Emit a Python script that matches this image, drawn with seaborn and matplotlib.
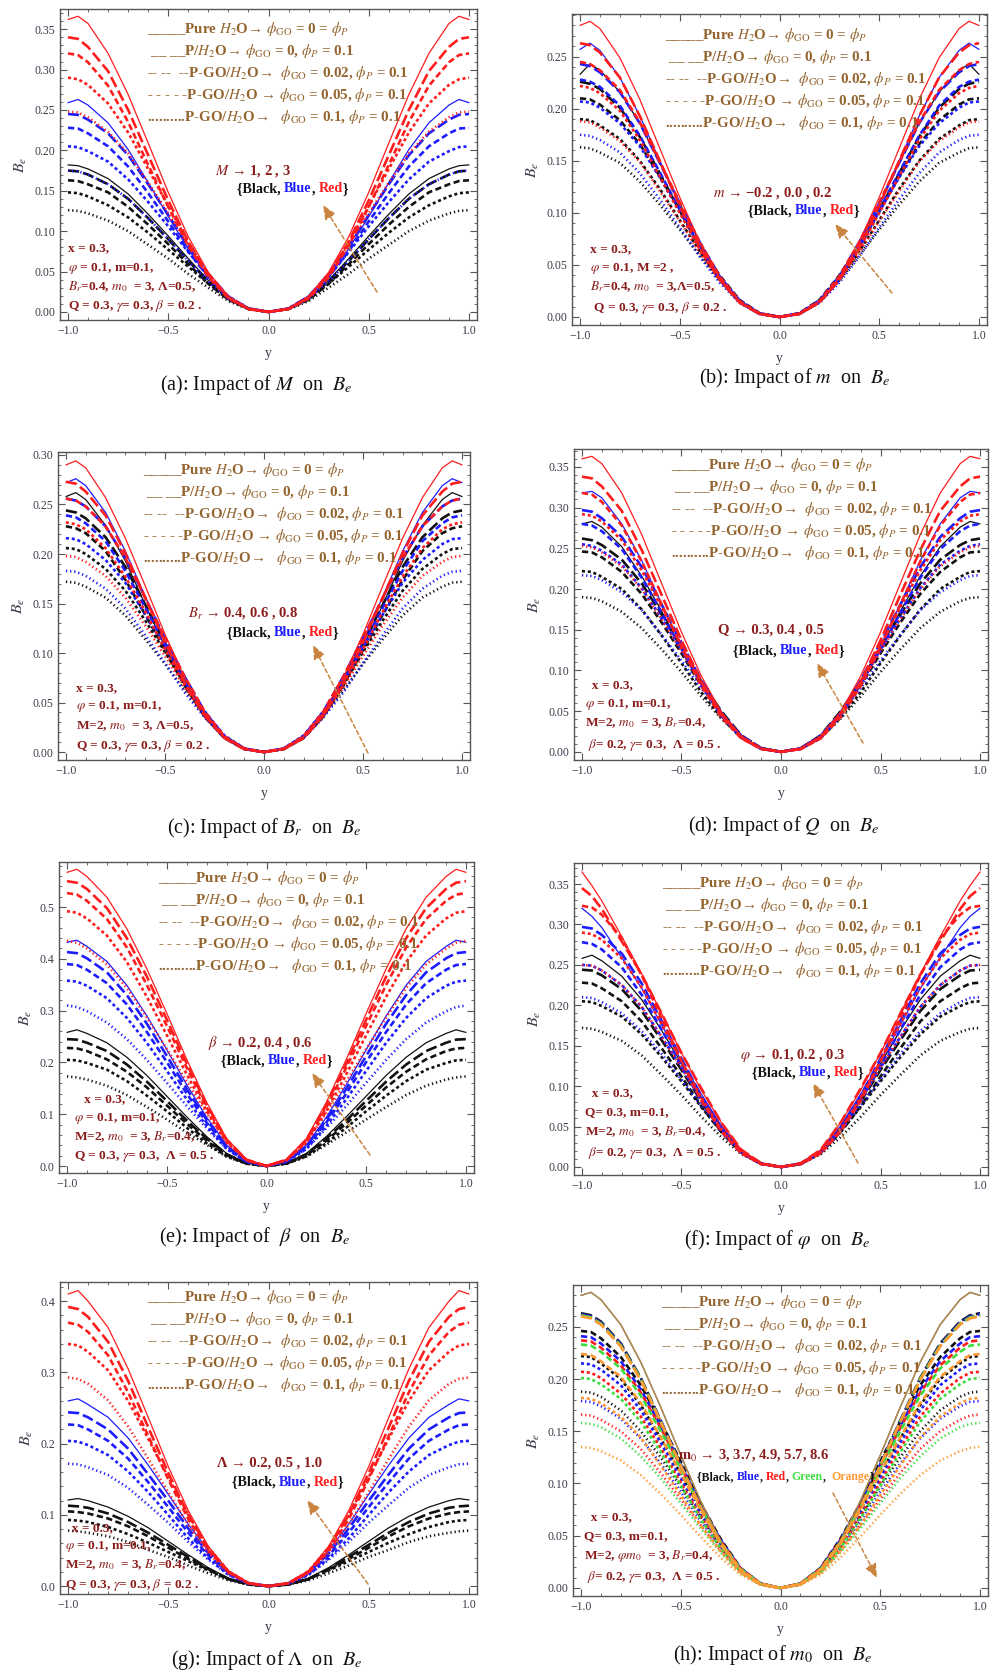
import matplotlib
matplotlib.use("Agg")
import matplotlib.pyplot as plt
from matplotlib.ticker import MultipleLocator, AutoMinorLocator
import seaborn as sns

# ---------------- data (half profiles, y >= 0; curves are symmetric) ----------------
Y_HALF = [0.0, 0.1, 0.2, 0.3, 0.4, 0.5, 0.6, 0.7, 0.8, 0.9, 0.95, 1.0]
STYLE_NAMES = ["solid", "long dash", "medium dash", "short dash", "dotted"]

A_BLACK = [[0, .0040, .0168, .039, .066, .094, .121, .146, .165, .177, .181, .182],
           [0, .0039, .0162, .038, .063, .090, .116, .140, .158, .170, .174, .175],
           [0, .0036, .0151, .035, .059, .084, .108, .130, .148, .158, .162, .163],
           [0, .0039, .0157, .035, .056, .077, .098, .117, .132, .143, .147, .148],
           [0, .0033, .0135, .030, .047, .066, .083, .100, .113, .122, .125, .126]]
A_BLUE = [[0, .0035, .0163, .042, .078, .118, .160, .201, .234, .256, .263, .259],
          [0, .0043, .0191, .047, .081, .120, .158, .194, .221, .238, .244, .245],
          [0, .0040, .0176, .043, .075, .112, .147, .180, .205, .221, .227, .228],
          [0, .0045, .0190, .044, .074, .106, .136, .164, .186, .199, .204, .205],
          [0, .0039, .0162, .038, .063, .090, .116, .140, .158, .170, .174, .175]]
A_RED = [[0, .0040, .0189, .049, .093, .148, .209, .269, .320, .357, .366, .362],
         [0, .0037, .0178, .046, .087, .138, .194, .250, .298, .328, .338, .340],
         [0, .0035, .0166, .043, .082, .130, .182, .235, .280, .309, .318, .320],
         [0, .0038, .0179, .046, .086, .131, .177, .222, .258, .281, .288, .290],
         [0, .0044, .0192, .047, .082, .122, .160, .196, .223, .241, .247, .248]]

B_BLACK = [[0, .0032, .0152, .039, .072, .109, .148, .186, .216, .237, .243, .233],
           [0, .0030, .0141, .036, .067, .102, .138, .173, .201, .219, .224, .226],
           [0, .0037, .0164, .040, .069, .103, .135, .166, .189, .204, .209, .210],
           [0, .0033, .0148, .036, .063, .093, .123, .150, .171, .184, .189, .190],
           [0, .0036, .0151, .035, .059, .084, .108, .130, .148, .158, .162, .163]]
B_BLUE = [[0, .0029, .0139, .036, .067, .107, .150, .193, .230, .256, .263, .257],
          [0, .0032, .0152, .039, .072, .109, .148, .186, .216, .235, .241, .243],
          [0, .0030, .0141, .036, .067, .103, .139, .174, .203, .221, .226, .228],
          [0, .0037, .0161, .039, .068, .101, .134, .164, .186, .201, .206, .207],
          [0, .0031, .0135, .033, .058, .086, .113, .138, .158, .170, .174, .175]]
B_RED = [[0, .0031, .0147, .038, .072, .115, .162, .209, .249, .277, .284, .280],
         [0, .0029, .0139, .036, .067, .107, .150, .193, .230, .254, .261, .263],
         [0, .0033, .0153, .039, .072, .110, .149, .187, .218, .237, .243, .245],
         [0, .0029, .0140, .036, .065, .100, .135, .170, .198, .215, .220, .222],
         [0, .0033, .0147, .036, .062, .092, .121, .149, .169, .182, .187, .188]]

C_BLACK = [[0, .0029, .0137, .035, .067, .106, .149, .193, .229, .255, .262, .258],
           [0, .0032, .0152, .039, .072, .110, .149, .187, .217, .236, .242, .244],
           [0, .0030, .0141, .036, .067, .103, .139, .174, .203, .221, .226, .228],
           [0, .0036, .0160, .039, .068, .101, .133, .163, .185, .200, .205, .206],
           [0, .0038, .0159, .037, .062, .089, .114, .138, .156, .167, .171, .172]]
C_BLUE = [[0, .0030, .0143, .037, .070, .112, .157, .203, .242, .269, .276, .272],
          [0, .0034, .0160, .041, .076, .115, .156, .196, .228, .248, .254, .256],
          [0, .0032, .0148, .038, .071, .108, .146, .183, .213, .231, .237, .239],
          [0, .0038, .0168, .041, .071, .106, .139, .171, .194, .210, .215, .216],
          [0, .0032, .0143, .035, .060, .090, .118, .145, .165, .178, .182, .183]]
C_RED = [[0, .0033, .0155, .040, .075, .119, .168, .216, .257, .287, .294, .290],
         [0, .0030, .0143, .037, .070, .111, .156, .201, .239, .263, .271, .273],
         [0, .0034, .0160, .041, .076, .115, .156, .196, .228, .248, .254, .256],
         [0, .0031, .0144, .037, .068, .104, .142, .177, .206, .225, .230, .232],
         [0, .0035, .0154, .038, .065, .097, .128, .156, .178, .192, .197, .198]]

D_BLACK = [[0, .0037, .0176, .045, .083, .127, .173, .216, .252, .276, .283, .280],
           [0, .0046, .0204, .050, .086, .128, .169, .207, .236, .254, .260, .262],
           [0, .0043, .0191, .047, .081, .121, .159, .194, .221, .239, .245, .246],
           [0, .0039, .0172, .042, .073, .109, .143, .175, .200, .215, .221, .222],
           [0, .0042, .0176, .041, .068, .098, .126, .152, .172, .185, .189, .190]]
D_BLUE = [[0, .0035, .0166, .043, .082, .130, .182, .235, .280, .312, .320, .318],
          [0, .0039, .0186, .048, .088, .134, .181, .227, .264, .287, .295, .297],
          [0, .0037, .0175, .045, .083, .126, .171, .214, .249, .271, .278, .280],
          [0, .0045, .0198, .048, .084, .125, .164, .201, .230, .247, .253, .255],
          [0, .0048, .0201, .047, .078, .112, .144, .174, .196, .211, .216, .217]]
D_RED = [[0, .0040, .0190, .049, .093, .147, .207, .267, .318, .354, .363, .360],
         [0, .0037, .0178, .046, .086, .137, .193, .248, .296, .326, .336, .338],
         [0, .0035, .0166, .043, .081, .129, .181, .234, .278, .307, .316, .318],
         [0, .0039, .0182, .047, .086, .131, .178, .223, .260, .283, .290, .292],
         [0, .0044, .0197, .048, .083, .124, .163, .200, .228, .245, .251, .253]]

E_BLACK = [[0, .0057, .0243, .057, .095, .135, .175, .210, .238, .256, .263, .258],
           [0, .0053, .0225, .053, .088, .126, .163, .196, .222, .238, .244, .245],
           [0, .0048, .0207, .049, .082, .117, .152, .182, .206, .222, .227, .228],
           [0, .0044, .0187, .044, .074, .106, .136, .164, .186, .199, .204, .205],
           [0, .0044, .0180, .041, .065, .090, .114, .137, .155, .167, .171, .173]]
E_BLUE = [[0, .0097, .0405, .094, .157, .225, .290, .349, .395, .424, .436, .432],
          [0, .0092, .0385, .089, .149, .213, .275, .330, .374, .401, .411, .413],
          [0, .0088, .0364, .084, .140, .201, .259, .312, .353, .379, .388, .390],
          [0, .0079, .0331, .077, .129, .184, .238, .286, .324, .348, .356, .358],
          [0, .0084, .0331, .073, .116, .161, .205, .245, .277, .299, .307, .310]]
E_RED = [[0, .0128, .0531, .123, .206, .295, .381, .458, .519, .559, .573, .567],
         [0, .0121, .0507, .118, .198, .283, .366, .440, .498, .535, .547, .550],
         [0, .0114, .0482, .113, .190, .271, .350, .422, .477, .512, .524, .527],
         [0, .0110, .0458, .106, .177, .253, .327, .394, .445, .478, .489, .492],
         [0, .0114, .0457, .102, .163, .226, .287, .344, .389, .420, .431, .435]]

F_BLACK = [[0, .0046, .0204, .050, .086, .128, .169, .207, .236, .255, .262, .258],
           [0, .0043, .0189, .046, .081, .120, .157, .193, .220, .237, .243, .244],
           [0, .0040, .0176, .043, .075, .112, .147, .180, .205, .221, .227, .228],
           [0, .0045, .0190, .044, .074, .106, .136, .164, .186, .199, .204, .205],
           [0, .0038, .0159, .037, .062, .089, .114, .138, .156, .167, .171, .172]]
F_BLUE = [[0, .0042, .0198, .051, .090, .131, .176, .221, .259, .296, .310, .320],
          [0, .0039, .0186, .048, .088, .134, .181, .227, .264, .287, .295, .297],
          [0, .0037, .0172, .044, .082, .125, .170, .213, .247, .269, .276, .278],
          [0, .0044, .0196, .048, .083, .123, .161, .198, .225, .243, .249, .250],
          [0, .0046, .0193, .045, .076, .108, .140, .168, .190, .204, .209, .210]]
F_RED = [[0, .0045, .0213, .055, .095, .141, .190, .239, .285, .329, .348, .365],
         [0, .0046, .0215, .055, .097, .141, .190, .238, .279, .319, .335, .345],
         [0, .0036, .0170, .044, .082, .131, .184, .237, .283, .312, .321, .323],
         [0, .0038, .0179, .046, .086, .131, .177, .222, .258, .281, .288, .290],
         [0, .0044, .0196, .048, .083, .123, .161, .198, .225, .243, .249, .250]]

G_BLACK = [[0, .0027, .0113, .026, .044, .063, .082, .098, .111, .120, .123, .121],
           [0, .0025, .0104, .024, .041, .058, .075, .090, .102, .110, .112, .113],
           [0, .0023, .0098, .023, .038, .054, .070, .084, .095, .102, .104, .105],
           [0, .0025, .0099, .022, .035, .048, .061, .073, .083, .090, .092, .093],
           [0, .0021, .0082, .018, .029, .041, .051, .062, .070, .075, .077, .078]]
G_BLUE = [[0, .0046, .0204, .050, .087, .129, .170, .208, .237, .255, .263, .260],
          [0, .0043, .0189, .046, .081, .120, .157, .193, .220, .237, .243, .244],
          [0, .0040, .0176, .043, .075, .111, .146, .179, .204, .220, .226, .227],
          [0, .0036, .0160, .039, .067, .100, .132, .161, .184, .198, .203, .204],
          [0, .0038, .0159, .037, .062, .089, .114, .138, .156, .167, .171, .172]]
G_RED = [[0, .0046, .0217, .056, .106, .168, .237, .305, .363, .400, .415, .410],
         [0, .0043, .0205, .053, .100, .159, .223, .288, .343, .378, .389, .392],
         [0, .0041, .0194, .050, .094, .150, .211, .272, .324, .357, .367, .370],
         [0, .0045, .0211, .054, .100, .153, .207, .260, .303, .329, .338, .340],
         [0, .0039, .0182, .047, .086, .132, .179, .224, .261, .284, .291, .293]]

H_BLACK = [[0, .0037, .0176, .045, .083, .127, .173, .216, .252, .276, .283, .280],
           [0, .0035, .0163, .042, .078, .118, .160, .201, .234, .255, .261, .263],
           [0, .0043, .0191, .047, .081, .121, .159, .194, .221, .239, .245, .246],
           [0, .0039, .0172, .042, .073, .109, .143, .175, .200, .215, .221, .222],
           [0, .0041, .0173, .040, .068, .097, .125, .150, .170, .183, .187, .188]]
H_BLUE = [[0, .0037, .0176, .045, .083, .127, .173, .216, .252, .276, .283, .280],
          [0, .0035, .0163, .042, .077, .118, .160, .200, .233, .254, .260, .262],
          [0, .0042, .0187, .046, .080, .118, .155, .190, .217, .234, .240, .241],
          [0, .0038, .0168, .041, .071, .105, .139, .170, .194, .209, .214, .215],
          [0, .0040, .0164, .038, .064, .092, .119, .143, .162, .174, .178, .179]]
H_RED = [[0, .0037, .0176, .045, .083, .127, .173, .216, .252, .276, .283, .280],
         [0, .0034, .0162, .042, .077, .117, .159, .200, .232, .253, .259, .261],
         [0, .0042, .0185, .045, .078, .116, .153, .187, .213, .230, .236, .237],
         [0, .0037, .0161, .039, .068, .101, .134, .164, .186, .201, .206, .207],
         [0, .0037, .0154, .036, .060, .085, .110, .133, .150, .161, .165, .166]]
H_GREEN = [[0, .0037, .0176, .045, .083, .127, .173, .216, .252, .276, .283, .280],
           [0, .0034, .0162, .042, .077, .117, .159, .200, .232, .253, .259, .261],
           [0, .0041, .0181, .044, .077, .114, .150, .184, .210, .226, .232, .233],
           [0, .0035, .0155, .038, .066, .098, .130, .159, .181, .195, .200, .201],
           [0, .0035, .0145, .034, .057, .081, .105, .126, .143, .154, .157, .158]]
H_ORANGE = [[0, .0037, .0176, .045, .083, .127, .173, .216, .252, .276, .283, .280],
            [0, .0034, .0162, .042, .077, .117, .159, .199, .231, .252, .258, .260],
            [0, .0040, .0175, .043, .074, .110, .144, .177, .202, .217, .223, .224],
            [0, .0032, .0143, .035, .060, .089, .117, .144, .164, .177, .181, .182],
            [0, .0030, .0125, .029, .049, .070, .090, .108, .122, .131, .134, .135]]

LEGEND_LINES = [
    r"_____Pure $H_2$O→ $\phi_{\rm GO}$ = 0 = $\phi_P$",
    r" __ __P/$H_2$O→ $\phi_{\rm GO}$ = 0, $\phi_P$ = 0.1",
    r"-- --  --P-GO/$H_2$O→  $\phi_{\rm GO}$ = 0.02, $\phi_P$ = 0.1",
    r"- - - - -P-GO/$H_2$O → $\phi_{\rm GO}$ = 0.05, $\phi_P$ = 0.1",
    r"..........P-GO/$H_2$O→   $\phi_{\rm GO}$ = 0.1, $\phi_P$ = 0.1",
]
PARAMS_A = ["x = 0.3,", r"$\varphi$ = 0.1, m=0.1,", r"$B_r$=0.4, $m_0$  = 3, Λ=0.5,", r"Q = 0.3, $\gamma$= 0.3, $\beta$ = 0.2 ."]
PARAMS_B = ["x = 0.3,", r"$\varphi$ = 0.1, M =2 ,", r"$B_r$=0.4, $m_0$  = 3,Λ=0.5,", r" Q = 0.3, $\gamma$= 0.3, $\beta$ = 0.2 ."]
PARAMS_C = ["x = 0.3,", r"$\varphi$ = 0.1, m=0.1,", r"M=2, $m_0$  = 3, Λ=0.5,", r"Q = 0.3, $\gamma$= 0.3, $\beta$ = 0.2 ."]
PARAMS_D = ["  x = 0.3,", r"$\varphi$ = 0.1, m=0.1,", r"M=2, $m_0$  = 3, $B_r$=0.4,", r" $\beta$= 0.2, $\gamma$= 0.3,  Λ = 0.5 ."]
PARAMS_E = ["   x = 0.3,", r"$\varphi$ = 0.1, m=0.1,", r"M=2, $m_0$  = 3, $B_r$=0.4,", r"Q = 0.3, $\gamma$= 0.3,  Λ = 0.5 ."]
PARAMS_F = ["  x = 0.3,", "Q= 0.3, m=0.1,", r"M=2, $m_0$  = 3, $B_r$=0.4,", r" $\beta$= 0.2, $\gamma$= 0.3,  Λ = 0.5 ."]
PARAMS_G = ["  x = 0.3,", r"$\varphi$ = 0.1, m=0.1,", r"M=2, $m_0$  = 3, $B_r$=0.4,", r"Q = 0.3, $\gamma$= 0.3, $\beta$ = 0.2 ."]
PARAMS_H = ["  x = 0.3,", "Q= 0.3, m=0.1,", r"M=2, $\varphi m_0$  = 3, $B_r$=0.4,", r" $\beta$= 0.2, $\gamma$= 0.3,  Λ = 0.5 ."]

ANNOT = [r"$M$ → 1, 2 , 3", r"$m$ → −0.2 , 0.0 , 0.2", r"$B_r$ → 0.4, 0.6 , 0.8", "Q → 0.3, 0.4 , 0.5",
         r"$\beta$ → 0.2, 0.4 , 0.6", r"$\varphi$ → 0.1, 0.2 , 0.3", "Λ → 0.2, 0.5 , 1.0",
         r"m$_0$ → 3, 3.7, 4.9, 5.7, 8.6"]
CAPTIONS = [r"(a): Impact of $M$  on  $B_e$", r"(b): Impact of $m$  on  $B_e$",
            r"(c): Impact of $B_r$  on  $B_e$", r"(d): Impact of $Q$  on  $B_e$",
            r"(e): Impact of  $\beta$  on  $B_e$", r"(f): Impact of $\varphi$  on  $B_e$",
            r"(g): Impact of $\Lambda$  on  $B_e$", r"(h): Impact of $m_0$  on  $B_e$"]
X_TICKS = [-1.0, -0.5, 0.0, 0.5, 1.0]

# ---------------- styling ----------------
sns.set_theme(style="ticks")
plt.rcParams.update({
    "font.family": ["Liberation Serif", "DejaVu Serif"],
    "mathtext.fontset": "stix",
    "lines.scale_dashes": False,
    "axes.unicode_minus": True,
})

COL = {"black": "#111111", "blue": "#1c1cff", "red": "#ff1c1c", "green": "#3fdc3f", "orange": "#ff9933"}
LINE_STYLES = [dict(linewidth=0.9, linestyle="-"),
               dict(linewidth=1.9, linestyle=(0, (8, 3))),
               dict(linewidth=1.9, linestyle=(0, (4.5, 2.5))),
               dict(linewidth=1.9, linestyle=(0, (2.2, 2.0))),
               dict(linewidth=1.9, linestyle=(0, (0.9, 2.1)))]
LEG_COL = "#94642f"
PAR_COL = "#8b1c1c"
ARROW_COL = "#c98540"
TICK_COL = "#3a3a4a"
W, H = 990, 1672

PANELS = [
    dict(rect=(60, 9, 477, 320), ylim=(-0.01, 0.375), ymaj=0.05, groups=[("black", A_BLACK), ("blue", A_BLUE), ("red", A_RED)],
         leg=(147, 29), par=(68, [248, 268, 287, 306]), params=PARAMS_A, ann=(215, 171), brace=(237, 189),
         arrow=((377, 292), (323, 205)), cap=(256, 385)),
    dict(rect=(572, 14, 987, 325), ylim=(-0.0077, 0.291), ymaj=0.05, groups=[("black", B_BLACK), ("blue", B_BLUE), ("red", B_RED)],
         leg=(665, 35), par=(590, [249, 268, 287, 308]), params=PARAMS_B, ann=(713, 193), brace=(748, 211),
         arrow=((892, 293), (835, 224)), cap=(795, 378)),
    dict(rect=(58, 452, 470, 760), ylim=(-0.008, 0.303), ymaj=0.05, groups=[("black", C_BLACK), ("blue", C_BLUE), ("red", C_RED)],
         leg=(143, 470), par=(76, [688, 707, 726, 746]), params=PARAMS_C, ann=(188, 613), brace=(227, 633),
         arrow=((368, 753), (313, 645)), cap=(264, 828)),
    dict(rect=(574, 449, 988, 760), ylim=(-0.01, 0.372), ymaj=0.05, groups=[("black", D_BLACK), ("blue", D_BLUE), ("red", D_RED)],
         leg=(671, 465), par=(585, [685, 704, 723, 745]), params=PARAMS_D, ann=(718, 630), brace=(733, 651),
         arrow=((863, 743), (817, 663)), cap=(784, 826)),
    dict(rect=(59, 862, 474, 1173), ylim=(-0.0135, 0.587), ymaj=0.1, groups=[("black", E_BLACK), ("blue", E_BLUE), ("red", E_RED)],
         leg=(158, 878), par=(74, [1099, 1118, 1137, 1157]), params=PARAMS_E, ann=(208, 1043), brace=(221, 1061),
         arrow=((370, 1155), (312, 1073)), cap=(255, 1237)),
    dict(rect=(574, 863, 988, 1175), ylim=(-0.0099, 0.376), ymaj=0.05, groups=[("black", F_BLACK), ("blue", F_BLUE), ("red", F_RED)],
         leg=(662, 883), par=(585, [1093, 1112, 1132, 1153]), params=PARAMS_F, ann=(740, 1055), brace=(752, 1073),
         arrow=((858, 1163), (813, 1083)), cap=(777, 1240)),
    dict(rect=(60, 1282, 477, 1594), ylim=(-0.011, 0.427), ymaj=0.1, groups=[("black", G_BLACK), ("blue", G_BLUE), ("red", G_RED)],
         leg=(147, 1297), par=(65, [1528, 1547, 1565, 1585]), params=PARAMS_G, ann=(217, 1463), brace=(232, 1482),
         arrow=((368, 1584), (307, 1500)), cap=(267, 1660)),
    dict(rect=(573, 1285, 988, 1596), ylim=(-0.0077, 0.29), ymaj=0.05,
         groups=[("black", H_BLACK), ("blue", H_BLUE), ("red", H_RED), ("green", H_GREEN), ("orange", H_ORANGE)],
         leg=(661, 1302), par=(584, [1517, 1536, 1556, 1577]), params=PARAMS_H, ann=(678, 1455), brace=(697, 1477),
         arrow=((833, 1493), (877, 1578)), cap=(773, 1655)),
]

fig = plt.figure(figsize=(W / 100, H / 100), dpi=100)
fig.patch.set_facecolor("white")


def fx(x):
    return x / W


def fy(y):
    return 1 - y / H


Y_FULL = [-v for v in Y_HALF[:0:-1]] + Y_HALF

for pi, P in enumerate(PANELS):
    l, t, r, b = P["rect"]
    ax = fig.add_axes([l / W, 1 - b / H, (r - l) / W, (b - t) / H])
    many = len(P["groups"]) > 3
    for cname, curves in P["groups"]:
        for si, vals in enumerate(curves):
            vfull = vals[:0:-1] + vals
            st = dict(LINE_STYLES[si])
            alpha = 0.5 if (many and si == 0) else 1.0
            sns.lineplot(x=Y_FULL, y=vfull, ax=ax, color=COL[cname], legend=False,
                         errorbar=None, sort=False, alpha=alpha, **st)
    ax.set_xlim(-1.04, 1.04)
    ax.set_ylim(*P["ylim"])
    ax.set_xticks(X_TICKS)
    ax.xaxis.set_minor_locator(MultipleLocator(0.1))
    ax.yaxis.set_major_locator(MultipleLocator(P["ymaj"]))
    ax.yaxis.set_minor_locator(AutoMinorLocator(5))
    ax.tick_params(which="both", direction="in", top=True, right=True, color="#555555",
                   labelcolor=TICK_COL, labelsize=8.5)
    ax.tick_params(which="major", length=5, width=0.8)
    ax.tick_params(which="minor", length=2.5, width=0.6)
    for sp in ax.spines.values():
        sp.set_color("#555555")
        sp.set_linewidth(1.0)
        sp.set_visible(True)
    ax.set_xlabel("y", fontsize=10, labelpad=7, color=TICK_COL)
    ax.set_ylabel(r"$B_e$", fontsize=11.5, labelpad=4, color=TICK_COL)

    # legend-like text block
    lx, ly = P["leg"]
    for i, s in enumerate(LEGEND_LINES):
        fig.text(fx(lx), fy(ly + 22 * i), s, fontsize=10.8, fontweight="bold", color=LEG_COL,
                 ha="left", va="center")
    # parameter block
    px, pys = P["par"]
    for s, yy in zip(P["params"], pys):
        fig.text(fx(px), fy(yy), s, fontsize=9.6, fontweight="bold", color=PAR_COL, ha="left", va="center")
    # annotation
    axx, ayy = P["ann"]
    fig.text(fx(axx), fy(ayy), ANNOT[pi], fontsize=10.5, fontweight="bold", color=PAR_COL, ha="left", va="center")
    bx, by = P["brace"]
    if many:
        parts = [("{Black, ", COL["black"]), ("Blue", COL["blue"]), (", ", COL["black"]), ("Red", COL["red"]),
                 (", ", COL["black"]), ("Green", COL["green"]), (",  ", COL["black"]), ("Orange", COL["orange"]),
                 ("}", COL["black"])]
        bfs = 8.5
    else:
        parts = [("{Black, ", COL["black"]), ("Blue", COL["blue"]), (", ", COL["black"]), ("Red", COL["red"]),
                 ("}", COL["black"])]
        bfs = 10.2
    txt = fig.text(fx(bx), fy(by), parts[0][0], fontsize=bfs, fontweight="bold", color=parts[0][1],
                   ha="left", va="center")
    for s, c in parts[1:]:
        txt = ax.annotate(s, xycoords=txt, xy=(1, 0), va="bottom", ha="left", fontsize=bfs,
                          fontweight="bold", color=c, annotation_clip=False)
    (tx, ty), (hx, hy) = P["arrow"]
    ax.annotate("", xy=(fx(hx), fy(hy)), xytext=(fx(tx), fy(ty)), xycoords="figure fraction",
                textcoords="figure fraction",
                arrowprops=dict(arrowstyle="-|>,head_length=0.7,head_width=0.3", color=ARROW_COL,
                                lw=1.1, linestyle=(0, (3, 2)), shrinkA=0, shrinkB=0))
    cx, cy = P["cap"]
    fig.text(fx(cx), fy(cy), CAPTIONS[pi], fontsize=14.5, ha="center", va="center", color="#111111")

fig.savefig("out.png", dpi=100)
